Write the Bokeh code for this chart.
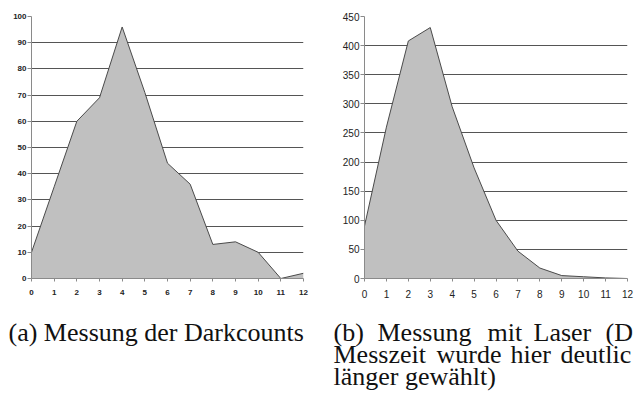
from bokeh.plotting import figure
from bokeh.layouts import column, row
from bokeh.models import Range1d, SingleIntervalTicker, Label
from bokeh.embed import file_html
from bokeh.resources import INLINE

# ---- data ----
x_vals = list(range(13))
dark_counts = [10, 35, 60, 69, 96, 71, 44, 36, 13, 14, 10, 0, 2]
laser_counts = [90, 260, 408, 431, 295, 190, 100, 47, 18, 5, 3, 1, 0]

caption_a = "(a) Messung der Darkcounts"
caption_b_words = [["(b)", "Messung", "mit", "Laser", "(D"],
                   ["Messzeit", "wurde", "hier", "deutlic"],
                   ["länger gewählt)"]]

FILL = "#c0c0c0"
EDGE = "#4a4a4a"
GRID = "#555555"
AXIS = "#8a8a8a"


def make_chart(values, width, height, yend, yint, borders, tick_size,
               tick_style):
    l, r, t, b = borders
    p = figure(width=width, height=height, output_backend="svg",
               toolbar_location=None, x_range=Range1d(0, 12),
               y_range=Range1d(0, yend), min_border_left=l,
               min_border_right=r, min_border_top=t, min_border_bottom=b)
    p.outline_line_color = None
    p.xgrid.grid_line_color = None
    p.ygrid.grid_line_color = GRID
    p.ygrid.grid_line_width = 1
    p.ygrid.ticker = SingleIntervalTicker(interval=yint)
    p.yaxis.ticker = SingleIntervalTicker(interval=yint)
    p.xaxis.ticker = SingleIntervalTicker(interval=1)
    for ax in (p.xaxis, p.yaxis):
        ax.axis_line_color = AXIS
        ax.major_tick_line_color = AXIS
        ax.major_tick_in = 0
        ax.major_tick_out = 4
        ax.minor_tick_line_color = None
        ax.major_label_text_font = "Liberation Sans"
        ax.major_label_text_font_size = tick_size
        ax.major_label_text_font_style = tick_style
        ax.major_label_text_color = "#222222"
    p.xaxis.major_tick_out = 3
    p.yaxis.major_label_standoff = 1
    p.xaxis.major_label_standoff = 7
    p.varea(x=x_vals, y1=[0] * len(values), y2=values, fill_color=FILL)
    p.line(x=x_vals, y=values, line_color=EDGE, line_width=1)
    return p


p1 = make_chart(dark_counts, 317, 302, 100, 10, (31, 14, 9, 24), "8px",
                "bold")
p2 = make_chart(laser_counts, 317, 302, 450, 50, (47, 7, 16, 23), "10px",
                "normal")

cap = figure(width=634, height=89, output_backend="svg", toolbar_location=None,
             x_range=Range1d(0, 634), y_range=Range1d(0, 89),
             min_border=0)
cap.axis.visible = False
cap.grid.visible = False
cap.outline_line_color = None

FONT = "Liberation Serif"
FS = "26px"
cap.add_layout(Label(x=8, y=59, text=caption_a, text_font=FONT,
                     text_font_size=FS, text_baseline="alphabetic",
                     text_color="#111111"))
word_x = [[333, 377, 487, 533, 605], [333, 436, 510, 560], [333]]
line_y = [59, 37, 15]
for words, xs, yy in zip(caption_b_words, word_x, line_y):
    for w, xx in zip(words, xs):
        cap.add_layout(Label(x=xx, y=yy, text=w, text_font=FONT,
                             text_font_size=FS, text_baseline="alphabetic",
                             text_color="#111111"))

layout = column(row(p1, p2), cap)
open("out.html", "w").write(file_html(layout, INLINE))
